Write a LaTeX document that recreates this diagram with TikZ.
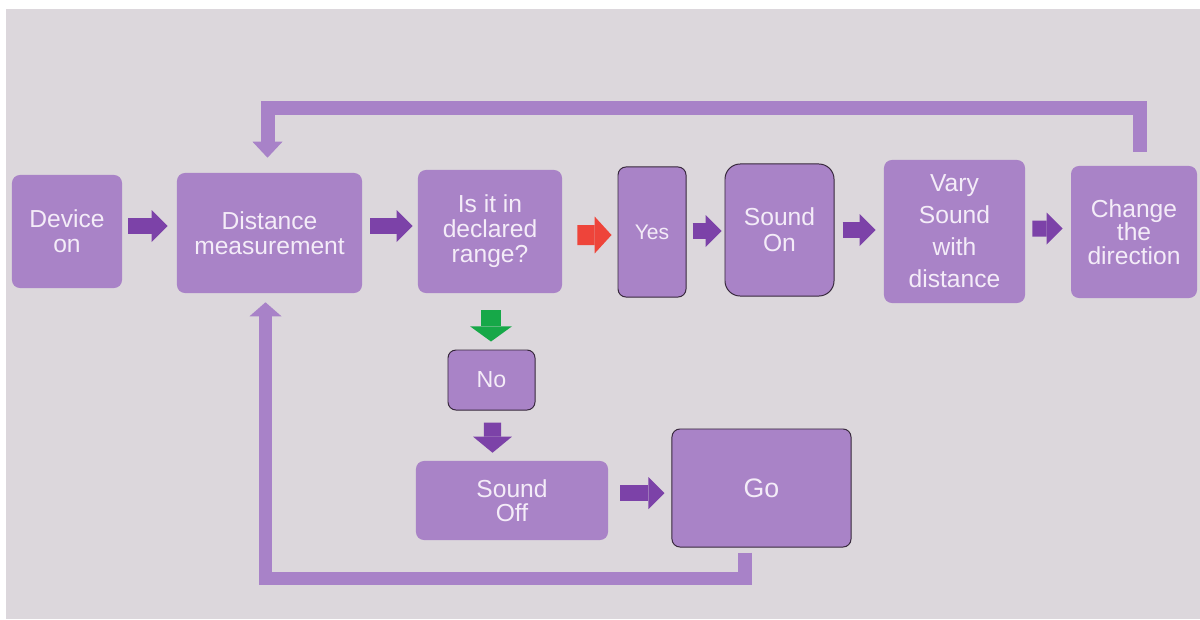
\documentclass[tikz,border=0pt]{standalone}
\usepackage{fontspec}
\setmainfont{Liberation Sans}
\usetikzlibrary{arrows.meta,calc}
\definecolor{bg}{RGB}{220,215,220}
\definecolor{boxc}{RGB}{169,131,199}
\definecolor{txt}{RGB}{244,236,248}
\definecolor{arrc}{RGB}{124,66,168}
\definecolor{lnk}{RGB}{168,130,200}
\definecolor{bord}{RGB}{55,40,60}
\definecolor{redarr}{RGB}{238,68,58}
\definecolor{grnarr}{RGB}{22,168,72}
\begin{document}
\begin{tikzpicture}[x=0.025cm,y=-0.025cm,
  box/.style={fill=boxc, draw=none, rounded corners=0.2cm, text=txt, align=center,
    inner sep=0pt, font=\fontsize{17.5}{17.5}\selectfont},
  bbox/.style={box, draw=bord, line width=0.7pt},
  blk/.style={draw=arrc, line width=0.4cm, line cap=butt,
    -{Triangle[length=0.4cm,width=0.8cm,line width=0pt]}},
  redblk/.style={draw=redarr, line width=0.5cm, line cap=butt,
    -{Triangle[length=0.42cm,width=0.92cm,line width=0pt]}},
  grnblk/.style={draw=grnarr, line width=0.5cm, line cap=butt,
    -{Triangle[length=0.38cm,width=1.05cm,line width=0pt]}},
  dnblk/.style={draw=arrc, line width=0.43cm, line cap=butt,
    -{Triangle[length=0.4cm,width=0.97cm,line width=0pt]}},
  looptop/.style={draw=lnk, line width=0.35cm, line join=miter, line cap=butt,
    -{Triangle[length=0.4cm,width=0.75cm,line width=0pt]}},
  loopbot/.style={draw=lnk, line width=0.33cm, line join=miter, line cap=butt,
    -{Triangle[length=0.35cm,width=0.8cm,line width=0pt]}}
]
\useasboundingbox (0,0) rectangle (1200,619);
\fill[white] (0,0) rectangle (1200,619);
\fill[bg] (6,9) rectangle (1200,619);

\node[box, minimum width=2.75cm, minimum height=2.825cm] (dev) at (67,231.5) {Device\\on};
\node[box, minimum width=4.625cm, minimum height=3.0cm] (dist) at (269.5,233) {Distance\\measurement};
\node[box, minimum width=3.6cm, minimum height=3.075cm, font=\fontsize{17.5}{17.8}\selectfont] (rng) at (490,231.5) {Is it in\\declared\\range?};
\node[bbox, minimum width=1.7cm, minimum height=3.25cm, font=\fontsize{15}{15}\selectfont] (yes) at (652,232) {Yes};
\node[bbox, rounded corners=0.38cm, minimum width=2.725cm, minimum height=3.3cm, font=\fontsize{17.5}{18.5}\selectfont] (son) at (779.5,230) {Sound\\On};
\node[box, minimum width=3.525cm, minimum height=3.575cm, font=\fontsize{17.5}{22.8}\selectfont] (vary) at (954.5,231.5) {Vary\\Sound\\with\\distance};
\node[box, minimum width=3.15cm, minimum height=3.3cm, font=\fontsize{17.5}{16.8}\selectfont] (chg) at (1134,232) {Change\\the\\direction};
\node[bbox, minimum width=2.175cm, minimum height=1.5cm, font=\fontsize{16.5}{16.5}\selectfont] (no) at (491.5,380) {No};
\node[box, minimum width=4.8cm, minimum height=1.975cm] (soff) at (512,500.5) {Sound\\Off};
\node[bbox, minimum width=4.475cm, minimum height=2.95cm, font=\fontsize{19}{19}\selectfont] (go) at (761.5,488) {Go};

\draw[blk] ($(dev.east)+(6,-5.5)$) -- ($(dist.west)+(-9,-7)$);
\draw[blk] ($(dist.east)+(8,-7)$) -- ($(rng.west)+(-5,-5.5)$);
\draw[redblk] ($(rng.east)+(15,3.5)$) -- ($(yes.west)+(-6,3)$);
\draw[blk] ($(yes.east)+(6,-1)$) -- ($(son.west)+(-3,1)$);
\draw[blk] ($(son.east)+(8,0)$) -- ($(vary.west)+(-8,-1.5)$);
\draw[blk] ($(vary.east)+(7,-3)$) -- ($(chg.west)+(-8,-3.5)$);
\draw[grnblk] ($(rng.south)+(1,17)$) -- ($(no.north)+(-0.5,-8)$);
\draw[dnblk] ($(no.south)+(1,12)$) -- ($(soff.north)+(-19.5,-8)$);
\draw[blk] ($(soff.east)+(12,-7.5)$) -- ($(go.west)+(-7,5)$);

\draw[looptop] ($(chg.north)+(6,-14)$) |- ($(dist.north)+(-2,-64.5)$) -- ($(dist.north)+(-2,-15)$);
\draw[loopbot] ($(go.south)+(-16.5,5)$) |- ($(dist.south)+(-4,285)$) -- ($(dist.south)+(-4,9)$);
\end{tikzpicture}
\end{document}
